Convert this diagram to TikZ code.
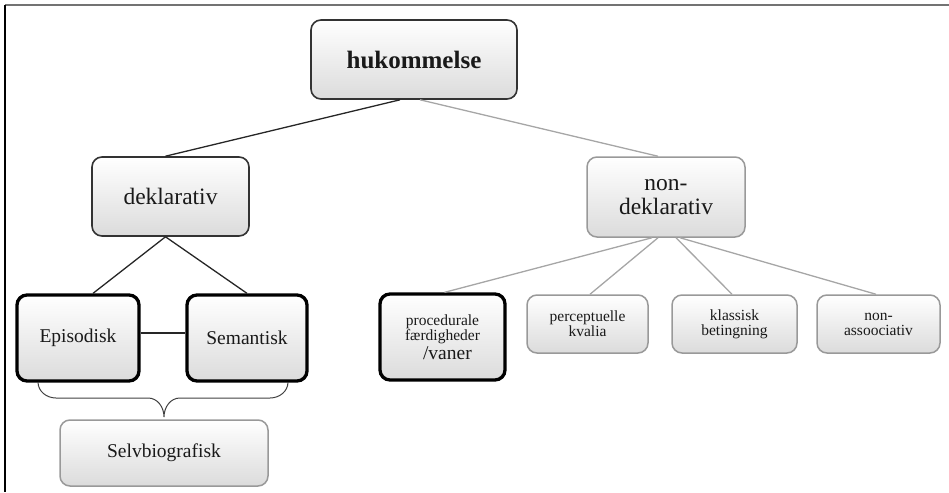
\documentclass[tikz,border=0pt]{standalone}
\usepackage{fontspec}
\setmainfont{Liberation Serif}
\def\hugetxt{\fontsize{25}{26}\bfseries\selectfont}
\def\bigtxt{\fontsize{23.5}{24}\selectfont}
\def\midtxt{\fontsize{19.5}{20}\selectfont}
\def\smalltxt{\fontsize{15.5}{15}\selectfont}
\def\dline{\draw[black!85,line width=1.3pt]}
\def\gline{\draw[black!35,line width=1.3pt]}

\begin{document}
\begin{tikzpicture}[x=1pt,y=-1pt,
    box/.style={rectangle,rounded corners=10pt,top color=white,bottom color=black!14,
                inner sep=0pt,align=center,text=black!90},
    darkbox/.style={box,draw=black!80,line width=1.6pt},
    greybox/.style={box,draw=black!40,line width=1.5pt},
    heavybox/.style={box,draw=black,line width=3.3pt}]
                \useasboundingbox (0,0) rectangle (949,492);
                \draw[black!55,line width=2pt] (5,5) -- (949,5);
                \draw[black,line width=2pt] (5,5) -- (5,492);
                % top level
                \node[darkbox,minimum width=206,minimum height=79,font=\hugetxt] (huk) at (414,59.5) {hukommelse};
                \node[darkbox,minimum width=157,minimum height=79,font=\bigtxt] (dekl) at (170.5,196.5) {deklarativ};
                \node[greybox,minimum width=158,minimum height=80,font=\bigtxt] (nondekl) at (666,197) {non-\\deklarativ};
                % declarative side
                \node[heavybox,minimum width=122,minimum height=86,font=\midtxt] (epi) at (78,338) {Episodisk};
                \node[heavybox,minimum width=120,minimum height=86,font=\midtxt] (sem) at (247,338) {Semantisk};
                \node[greybox,minimum width=208,minimum height=66,font=\midtxt] (selv) at (164,453) {Selvbiografisk};
                % non-declarative side
                \node[heavybox,minimum width=125,minimum height=86,font=\smalltxt] (proc) at (442.5,337)
                    {procedurale\\færdigheder\\[2pt]{\fontsize{19.5}{19}\selectfont\ \ /vaner}};
                \node[greybox,minimum width=121,minimum height=58,font=\smalltxt] (perc) at (587.5,324) {perceptuelle\\kvalia};
                \node[greybox,minimum width=125,minimum height=58,font=\smalltxt] (klas) at (734.5,324) {klassisk\\betingning};
                \node[greybox,minimum width=123,minimum height=58,font=\smalltxt] (nona) at (878.5,324) {non-\\assoociativ};
                % connectors
                \dline ([xshift=-14pt]huk.south) -- ([xshift=-5pt]dekl.north);
                \gline ([xshift=6pt]huk.south) -- ([xshift=-8pt]nondekl.north);
                \dline ([xshift=-5pt]dekl.south) -- ([xshift=15pt]epi.north);
                \dline ([xshift=-5pt]dekl.south) -- (sem.north);
                \dline ([yshift=5pt]epi.east) -- ([yshift=5pt]sem.west);
                \gline ([xshift=-14pt]nondekl.south) -- ([xshift=2pt]proc.north);
                \gline ([xshift=-8pt]nondekl.south) -- ([xshift=2.5pt]perc.north);
                \gline ([xshift=10pt]nondekl.south) -- ([xshift=-2.5pt]klas.north);
                \gline ([xshift=14pt]nondekl.south) -- ([xshift=-2.5pt]nona.north);
                % brace
                \draw[black!75,line width=1pt] (38,382) to[out=-90,in=180] (56,398) -- (148,398)
                    to[out=0,in=90] (164,417) to[out=90,in=180] (180,398) -- (270,398) to[out=0,in=-90] (288,382);
            \end{tikzpicture}
\end{document}
